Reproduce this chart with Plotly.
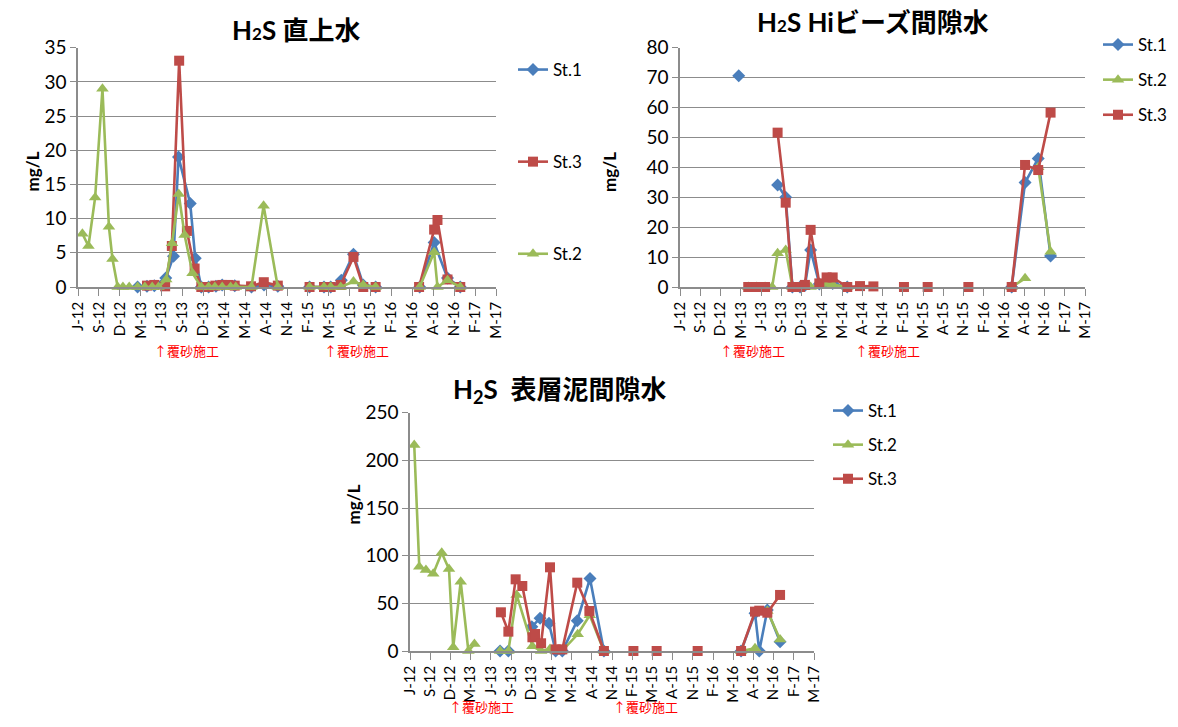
import plotly.graph_objects as go

# x positions are in tick-interval units (0 = J-12, 20 = M-17); None breaks a line
TICK_LABELS = ["J-12", "S-12", "D-12", "M-13", "J-13", "S-13", "D-13", "M-14", "M-14",
               "A-14", "N-14", "F-15", "M-15", "A-15", "N-15", "F-16", "M-16", "A-16",
               "N-16", "F-17", "M-17"]
TICK_POS = list(range(len(TICK_LABELS)))

# ---- H2S 直上水 (overlying water) ----
ow_st1_x = [2.85, 3.3, 3.65, 4.2, 4.57, 4.81, 5.37, 5.61, 5.9, 6.25, 6.6, 6.9, 7.5, 8.3, 8.9, 9.56,
            None, 11.08, 11.77, 12.09, 12.6, 13.18, 13.65, 14.24, None, 16.35, 17.04, 17.68, 18.29]
ow_st1_y = [0, 0.1, 0.2, 1.3, 4.5, 19.0, 12.2, 4.2, 0, 0, 0.1, 0.3, 0.2, 0, 0.3, 0.1,
            None, 0, 0, 0, 1.0, 4.8, 0.3, 0, None, 0, 6.5, 1.3, 0]
ow_st3_x = [3.3, 3.65, 4.17, 4.49, 4.84, 5.21, 5.58, 5.9, 6.25, 6.57, 6.9, 7.2, 7.5, 8.28, 8.89, 9.56,
            None, 11.08, 11.77, 12.09, 12.57, 13.18, 13.65, 14.24, None, 16.32, 17.04, 17.2, 17.68, 18.29]
ow_st3_y = [0.2, 0.3, 0.1, 6.0, 33.1, 8.2, 2.7, 0, 0, 0.2, 0.3, 0.3, 0.2, 0.1, 0.7, 0.2,
            None, 0, 0, 0, 0.3, 4.4, 0, 0, None, 0, 8.4, 9.8, 1.1, 0]
ow_st2_x = [0.21, 0.5, 0.82, 1.17, 1.48, 1.65, 1.9, 2.15, 2.45, 2.85, 3.2, 3.55, 3.85, 4.22, 4.5,
            4.82, 5.1, 5.48, 5.9, 6.25, 6.55, 6.9, 7.3, 7.55, 8.3, 8.88, 9.56,
            None, 11.08, 11.77, 12.09, 12.57, 13.18, 13.65, 14.24, None, 16.35, 17.04, 17.2, 17.68, 18.29]
ow_st2_y = [7.8, 6.0, 13.1, 29.0, 8.8, 4.1, 0, 0, 0, 0, 0, 0, 0, 1.1, 6.4,
            13.6, 7.6, 2.0, 0, 0, 0, 0, 0, 0, 0, 11.9, 0,
            None, 0, 0, 0, 0, 0.8, 0.3, 0, None, 0, 5.1, 0, 1.0, 0]

# ---- H2S Hiビーズ間隙水 (Hi-beads pore water) ----
hb_st1_x = [2.9, None, 4.82, 5.22, 5.55, 5.93, 6.17, 6.45, 6.88, 7.24, 7.54, 8.26,
            None, 16.38, 17.04, 17.69, 18.3]
hb_st1_y = [70.6, None, 34.1, 30.0, 0, 0, 0.5, 12.4, 1.0, 1.5, 1.2, 0,
            None, 0, 34.9, 43.0, 10.4]
hb_st2_x = [3.37, 3.79, 4.2, 4.55, 4.82, 5.22, 5.55, 5.93, 6.17, 6.45, 6.88, 7.24, 7.54, 8.26,
            None, 16.38, 17.04, None, 17.69, 18.3]
hb_st2_y = [0, 0, 0, 0, 11.3, 12.4, 0, 0, 0, 0, 0.5, 1.0, 0.8, 0,
            None, 0, 2.9, None, 40.0, 11.8]
hb_st3_x = [3.37, 3.79, 4.2, None, 4.82, 5.22, 5.55, 5.93, 6.17, 6.45, 6.88, 7.24, 7.54, 8.26,
            8.89, 9.55, None, 11.06, None, 12.23, None, 14.24, None, 16.38, 17.04, 17.69, 18.3]
hb_st3_y = [0, 0, 0, None, 51.6, 28.2, 0, 0, 0.7, 19.1, 1.2, 3.2, 3.2, 0,
            0.3, 0.2, None, 0, None, 0, None, 0, None, 0, 40.8, 39.1, 58.3]

# ---- H2S 表層泥間隙水 (surface sediment pore water) ----
ss_st1_x = [4.46, 4.87, None, 6.03, 6.44, 6.88, 7.21, 7.54, 8.28, 8.91, 9.6,
            None, 16.39, 17.08, 17.29, 17.69, 18.32]
ss_st1_y = [0, 0, None, 25.5, 34.3, 29.0, 0, 0, 31.8, 76.0, 0,
            None, 0, 39.5, 0, 43.0, 9.8]
ss_st2_x = [0.21, 0.46, 0.79, 1.15, 1.57, 1.93, 2.14, 2.51, 2.89, 3.19,
            None, 4.46, 4.87, 5.28, 6.06, 6.49, 6.93, 7.21, 7.54, 8.3, 8.9, 9.6,
            None, 16.39, 17.08, None, 17.69, 18.32]
ss_st2_y = [216, 88.5, 85, 81, 103, 86, 4, 72.7, 0, 7.3,
            None, 0, 0, 58.8, 5.0, 0, 2.0, 0, 0.5, 17.5, 37.5, 0,
            None, 0, 2.8, None, 42.0, 12.0]
ss_st3_x = [4.5, 4.87, 5.23, 5.56, 6.06, 6.19, 6.49, 6.93, 7.21, 7.54, 8.28, 8.88, 9.6,
            None, 11.06, None, 12.21, None, 14.24, None, 16.39, 17.08, 17.29, 17.69, 18.32]
ss_st3_y = [40.6, 20.3, 75.2, 68.2, 14.4, 17.8, 8.1, 87.8, 1.7, 1.7, 71.7, 42.0, 0,
            None, 0, None, 0, None, 0, None, 0, 41.3, 42.3, 40.2, 58.8]

COLORS = {"St.1": "#4A7EBB", "St.2": "#9BBB59", "St.3": "#BE4B48"}
SYMBOLS = {"St.1": "diamond", "St.2": "triangle-up", "St.3": "square"}
SIZES = {"St.1": 10, "St.2": 11, "St.3": 10}

W, H = 1178, 727
FONT = "Lato, 'Noto Sans CJK JP', sans-serif"
JP = "'Noto Sans CJK JP', sans-serif"


def px_x(p):
    return p / W


def px_y(p):
    return 1 - p / H


fig = go.Figure()


def add_series(name, xs, ys, axis, legend):
    fig.add_trace(go.Scatter(
        x=xs, y=ys, name=name, mode="lines+markers",
        xaxis="x" + axis, yaxis="y" + axis, legend=legend, legendgroup=legend + name,
        line=dict(color=COLORS[name], width=2.6),
        marker=dict(symbol=SYMBOLS[name], size=SIZES[name], color=COLORS[name]),
        connectgaps=False, cliponaxis=False,
    ))


# panel 1: St.1, St.3, St.2 (legend order and draw order)
add_series("St.1", ow_st1_x, ow_st1_y, "", "legend")
add_series("St.3", ow_st3_x, ow_st3_y, "", "legend")
add_series("St.2", ow_st2_x, ow_st2_y, "", "legend")
# panel 2
add_series("St.1", hb_st1_x, hb_st1_y, "2", "legend2")
add_series("St.2", hb_st2_x, hb_st2_y, "2", "legend2")
add_series("St.3", hb_st3_x, hb_st3_y, "2", "legend2")
# panel 3
add_series("St.1", ss_st1_x, ss_st1_y, "3", "legend3")
add_series("St.2", ss_st2_x, ss_st2_y, "3", "legend3")
add_series("St.3", ss_st3_x, ss_st3_y, "3", "legend3")

GRID = "#8C8C8C"


def xaxis(domain, anchor):
    return dict(
        domain=domain, anchor=anchor, range=[0, 20], tickmode="array",
        tickvals=TICK_POS, ticktext=TICK_LABELS, tickangle=-90, automargin=False,
        ticks="outside", ticklen=7, tickcolor=GRID, showline=True, linecolor=GRID,
        linewidth=1.5, showgrid=False, zeroline=False,
        tickfont=dict(family=FONT, size=15, color="#000000"),
    )


def yaxis(domain, anchor, top, step):
    return dict(
        domain=domain, anchor=anchor, range=[0, top], dtick=step, tick0=0, automargin=False,
        ticks="outside", ticklen=6, tickcolor=GRID, showline=True, linecolor=GRID,
        linewidth=1.5, showgrid=True, gridcolor=GRID, gridwidth=1, zeroline=False,
        tickfont=dict(family=FONT, size=19, color="#000000"),
    )


dom1x = [px_x(78), px_x(496)]
dom2x = [px_x(680), px_x(1085)]
dom3x = [px_x(410), px_x(814)]
dom12y = [px_y(287), px_y(47.7)]
dom3y = [px_y(651), px_y(412.7)]

legend_common = dict(bgcolor="rgba(0,0,0,0)", font=dict(family=FONT, size=17, color="#000000"),
                     traceorder="grouped", itemwidth=30, xanchor="left", yanchor="top")

fig.update_layout(
    width=W, height=H, margin=dict(l=0, r=0, t=0, b=0, autoexpand=False),
    paper_bgcolor="white", plot_bgcolor="white",
    xaxis=xaxis(dom1x, "y"), yaxis=yaxis(dom12y, "x", 35, 5),
    xaxis2=xaxis(dom2x, "y2"), yaxis2=yaxis(dom12y, "x2", 80, 10),
    xaxis3=xaxis(dom3x, "y3"), yaxis3=yaxis(dom3y, "x3", 250, 50),
    legend=dict(x=px_x(513), y=px_y(52), tracegroupgap=67, **legend_common),
    legend2=dict(x=px_x(1098), y=px_y(27), tracegroupgap=10, **legend_common),
    legend3=dict(x=px_x(828), y=px_y(393), tracegroupgap=9, **legend_common),
    showlegend=True,
)

small2 = "<span style='font-size:17px'>2</span>"
annotations = [
    dict(text=f"<b>H{small2}S 直上水</b>", x=px_x(296), y=px_y(30)),
    dict(text=f"<b>H{small2}S Hiビーズ間隙水</b>", x=px_x(873), y=px_y(22)),
    dict(text="<b>H<sub>2</sub>S  表層泥間隙水</b>", x=px_x(560), y=px_y(390)),
]
for a in annotations:
    fig.add_annotation(xref="paper", yref="paper", showarrow=False, xanchor="center",
                       yanchor="middle", font=dict(family=FONT, size=26, color="#000000"), **a)

for xp, yp in [(20, 150), (610, 150), (340, 527)]:
    fig.add_annotation(text="<b>mg/L</b>", xref="paper", yref="paper", x=px_x(xp), y=px_y(yp),
                       showarrow=False, textangle=-90,
                       font=dict(family=FONT, size=17, color="#000000"))

# sand-capping work markers
for xp, yp in [(152, 350), (322, 350), (752, 350), (922, 350), (482, 718), (645, 718)]:
    fig.add_annotation(text="↑覆砂施工", xref="paper", yref="paper", x=px_x(xp), y=px_y(yp),
                       showarrow=False, font=dict(family=JP, size=13, color="#FF0000"))

fig.write_html("out.html")
